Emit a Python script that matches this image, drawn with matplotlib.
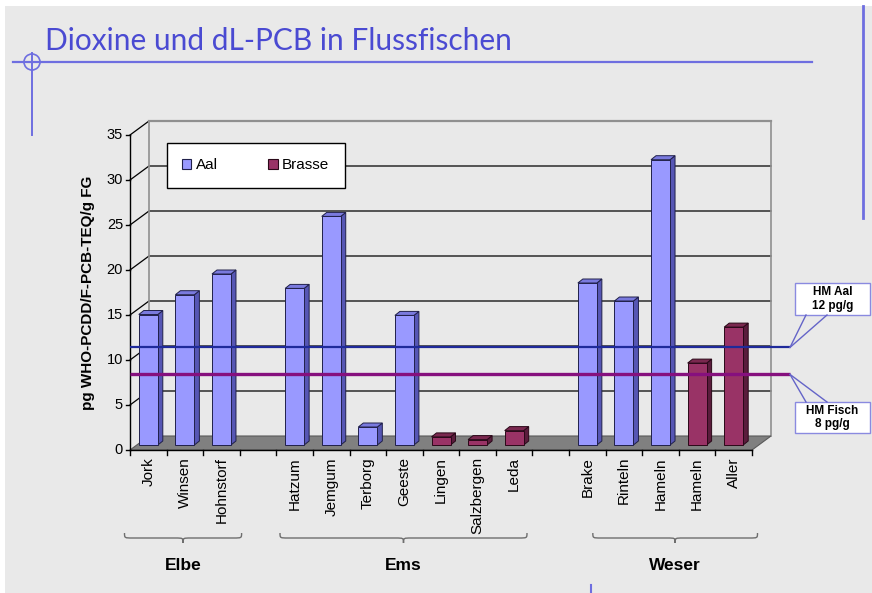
import numpy as np
import matplotlib
matplotlib.use("Agg")
import matplotlib.pyplot as plt
from matplotlib.patches import Polygon, Rectangle, Circle, Patch, PathPatch
from matplotlib.path import Path
from matplotlib.transforms import Affine2D

plt.rcParams['font.family'] = ['Liberation Sans', 'DejaVu Sans']

# ---- data ----------------------------------------------------------------
categories = ['Jork', 'Winsen', 'Hohnstorf', '',
              'Hatzum', 'Jemgum', 'Terborg', 'Geeste', 'Lingen', 'Salzbergen', 'Leda', '',
              'Brake', 'Rinteln', 'Hameln', 'Hameln', 'Aller']
aal = [14.5, 16.7, 19.0, None,
       17.4, 25.4, 2.0, 14.4, None, None, None, None,
       18.0, 16.0, 31.7, None, None]
brasse = [None, None, None, None,
          None, None, None, None, 0.9, 0.6, 1.6, None,
          None, None, None, 9.1, 13.1]
series_names = ['Aal', 'Brasse']

rivers = ['Elbe', 'Ems', 'Weser']
river_spans = [(-0.15, 3.05), (4.1, 10.85), (12.65, 17.15)]   # in category slots

y_ticks = [0, 5, 10, 15, 20, 25, 30, 35]
hm_levels = [11.4, 8.4]                 # where the limit lines sit on the axis
hm_texts = ['HM Aal\n12 pg/g', 'HM Fisch\n8 pg/g']
hm_colors = ['#1f2a9a', '#86107e']
hm_widths = [1.6, 2.4]

# ---- figure ---------------------------------------------------------------
W, H = 872, 593
fig = plt.figure(figsize=(W / 100, H / 100), dpi=100)
fig.patch.set_facecolor('#e9e9e9')
px = Affine2D().scale(1, -1).translate(0, H)   # pixel coords, y downwards

# white margin of the scanned slide
fig.patches.append(Rectangle((0, 0), W, 6, transform=px, fc='white', ec='none'))
fig.patches.append(Rectangle((0, 0), 5, H, transform=px, fc='white', ec='none'))

# slide decoration
deco = '#6e6ee0'
fig.add_artist(plt.Line2D([13, 812], [62, 62], transform=px, color=deco, lw=1.6))
fig.add_artist(plt.Line2D([32, 32], [53, 135], transform=px, color=deco, lw=1.4))
fig.add_artist(Circle((32, 62), 8, transform=px, fill=False, ec=deco, lw=1.2))
fig.add_artist(plt.Line2D([863, 863], [6, 218], transform=px, color=deco, lw=2))
fig.add_artist(plt.Line2D([591, 591], [585, 593], transform=px, color=deco, lw=1.5))
fig.text(45, 50, 'Dioxine und dL-PCB in Flussfischen', transform=px,
         family='Lato', fontsize=21.5, color='#4a4ad2', va='baseline', ha='left')

# front plane of the 3D chart
x0, x1, y0, y1 = 130, 752, 450, 135
n = len(categories)
ax = fig.add_axes([x0 / W, 1 - y0 / H, (x1 - x0) / W, (y0 - y1) / H])
ax.set_xlim(0, n)
ax.set_ylim(0, 35)
ax.axis('off')
sx = (x1 - x0) / n          # px per slot
sy = (y0 - y1) / 35         # px per unit
wdx, wdy = 19 / sx, 14 / sy  # wall depth

# back wall and side wall grid
for v in y_ticks[1:]:
    ax.plot([0, wdx, n + wdx], [v, v + wdy, v + wdy], color='black', lw=0.9,
            clip_on=False, zorder=1)
ax.plot([wdx, wdx], [wdy, 35 + wdy], color='#909090', lw=1.2, clip_on=False, zorder=1)
ax.plot([n + wdx, n + wdx], [wdy, 35 + wdy], color='#909090', lw=1.2, clip_on=False, zorder=1)
ax.plot([wdx, n + wdx], [35 + wdy, 35 + wdy], color='#909090', lw=1.6, clip_on=False, zorder=1)

# floor
ax.add_patch(Polygon([(0, 0), (n, 0), (n + wdx, wdy), (wdx, wdy)], closed=True,
                     fc='#808080', ec='#5a5a5a', lw=0.8, clip_on=False, zorder=2))

# axes lines, ticks, tick labels
ax.plot([0, 0], [0, 35], color='black', lw=1.0, clip_on=False, zorder=3)
ax.plot([0, n], [0, 0], color='black', lw=1.0, clip_on=False, zorder=3)
for v in y_ticks:
    ax.plot([-4 / sx, 0], [v, v], color='black', lw=1.0, clip_on=False)
    ax.text(-7 / sx, v, str(v), ha='right', va='center', fontsize=10.5)
for i in range(n + 1):
    ax.plot([i, i], [0, -5 / sy], color='black', lw=1.0, clip_on=False)
for i, lab in enumerate(categories):
    ax.text(i + 0.5, -7 / sy, lab, rotation=90, ha='center', va='top', fontsize=11)

fig.text(88, 293, 'pg WHO-PCDD/F-PCB-TEQ/g FG', transform=px, rotation=90,
         ha='center', va='center', fontsize=11, fontweight='bold')

# 3D bars
base = 5 / sy
bw = 19 / sx
bdx, bdy = 5 / sx, 4 / sy
styles = [('#9999ff', '#5656b4', '#7a7ade', '#20204a'),
          ('#993366', '#5a1c3c', '#7a284f', '#2a0818')]

for vals, (front, side, top, edge) in zip([aal, brasse], styles):
    for i, v in enumerate(vals):
        if v is None:
            continue
        l, r = i + 0.5 - bw / 2, i + 0.5 + bw / 2
        b, t = base, base + v
        kw = dict(ec=edge, lw=0.7, clip_on=False, zorder=4)
        ax.add_patch(Polygon([(r, b), (r + bdx, b + bdy), (r + bdx, t + bdy), (r, t)], fc=side, **kw))
        ax.add_patch(Polygon([(l, t), (r, t), (r + bdx, t + bdy), (l + bdx, t + bdy)], fc=top, **kw))
        ax.add_patch(Rectangle((l, b), bw, v, fc=front, **kw))

# legend
handles = [Patch(fc=s[0], ec=s[3], lw=0.8) for s in styles]
leg = fig.legend(handles, series_names, loc='upper left',
                 bbox_to_anchor=(167 / W, 1 - 143 / H), ncol=2, fontsize=11,
                 frameon=True, fancybox=False, framealpha=1, edgecolor='black',
                 handlelength=0.6, handleheight=0.6, handletextpad=0.3,
                 columnspacing=3.3, borderpad=1.0, borderaxespad=0)
leg.get_frame().set_linewidth(1.0)
leg.set_zorder(5)

# limit lines with callouts
line_end = n + (790 - x1) / sx
boxes = [(795, 283, 870, 315), (795, 402, 870, 433)]
for level, txt, col, lw, (bx0, by0, bx1, by1) in zip(hm_levels, hm_texts, hm_colors,
                                                     hm_widths, boxes):
    ax.plot([0, line_end], [level, level], color=col, lw=lw,
            clip_on=False, zorder=6, solid_capstyle='butt')
    ya = y0 - level * sy
    edge_y = by1 if ya > by1 else by0
    for ex in (bx0 + 11, bx0 + 32):
        fig.add_artist(plt.Line2D([790, ex], [ya, edge_y], transform=px, color='#6464c8', lw=1.0))
    fig.patches.append(Rectangle((bx0, by0), bx1 - bx0, by1 - by0, transform=px,
                                 fc='white', ec='#8a8ae0', lw=1.0))
    fig.text((bx0 + bx1) / 2, (by0 + by1) / 2, txt, transform=px, ha='center', va='center',
             fontsize=8.5, fontweight='bold', linespacing=1.15)


# river braces
def brace(a, b, y):
    d = 5 / sy      # curl height
    c = 8 / sx      # curl width
    m = (a + b) / 2
    verts = [(a, y + d),
             (a, y), (a, y), (a + c, y),
             (m - c, y),
             (m, y), (m, y), (m, y - d),
             (m, y), (m, y), (m + c, y),
             (b - c, y),
             (b, y), (b, y), (b, y + d)]
    codes = [Path.MOVETO,
             Path.CURVE4, Path.CURVE4, Path.CURVE4,
             Path.LINETO,
             Path.CURVE4, Path.CURVE4, Path.CURVE4,
             Path.CURVE4, Path.CURVE4, Path.CURVE4,
             Path.LINETO,
             Path.CURVE4, Path.CURVE4, Path.CURVE4]
    return PathPatch(Path(verts, codes), fill=False, ec='#6e6e6e', lw=1.0, clip_on=False)


for name, (a, b) in zip(rivers, river_spans):
    ax.add_patch(brace(a, b, (y0 - 538) / sy))
    ax.text((a + b) / 2, (y0 - 565) / sy, name, ha='center', va='center',
            fontsize=12.5, fontweight='bold')

fig.savefig('out.png', dpi=100, facecolor=fig.get_facecolor())
